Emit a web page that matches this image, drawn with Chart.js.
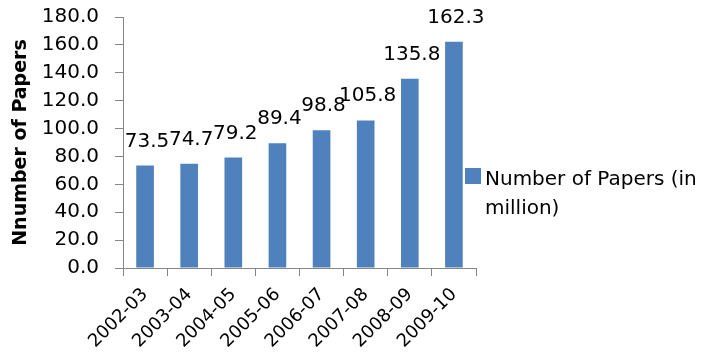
<!DOCTYPE html>
<html>
<head>
<meta charset="utf-8">
<script src="https://cdn.jsdelivr.net/npm/chart.js@4"></script>
<style>
  html, body { margin: 0; padding: 0; background: #fff; }
  #wrap { width: 712px; height: 362px; }
</style>
</head>
<body>
<div id="wrap"><canvas id="papers"></canvas></div>
<script>
// yearly circulation, in million papers
const years = ['2002-03', '2003-04', '2004-05', '2005-06', '2006-07', '2007-08', '2008-09', '2009-10'];
const papers = [73.5, 74.7, 79.2, 89.4, 98.8, 105.8, 135.8, 162.3];
const yTicks = [0, 20, 40, 60, 80, 100, 120, 140, 160, 180];
const seriesName = 'Number of Papers (in million)';
const legendLines = ['Number of Papers (in', 'million)'];

const FONT = 'DejaVu Sans';
const BLUE = '#4F81BD';
const AXIS = '#868686';

// value labels over each bar
const valueLabels = {
  id: 'valueLabels',
  afterDatasetsDraw(chart) {
    const ctx = chart.ctx;
    const meta = chart.getDatasetMeta(0);
    ctx.save();
    ctx.font = '20px "' + FONT + '"';
    ctx.fillStyle = '#000';
    ctx.textAlign = 'center';
    ctx.textBaseline = 'alphabetic';
    meta.data.forEach((bar, i) => {
      ctx.fillText(papers[i].toFixed(1), bar.x + 2, bar.y - 19);
    });
    ctx.restore();
  }
};

// legend on the right, text wrapped over two lines
const sideLegend = {
  id: 'sideLegend',
  afterDraw(chart) {
    const ctx = chart.ctx;
    const x = chart.chartArea.right - 11;
    const y = 168;
    ctx.save();
    ctx.fillStyle = BLUE;
    ctx.fillRect(x, y, 16, 16);
    ctx.font = '20px "' + FONT + '"';
    ctx.fillStyle = '#000';
    ctx.textAlign = 'left';
    ctx.textBaseline = 'alphabetic';
    legendLines.forEach((line, i) => {
      ctx.fillText(line, x + 20, y + 17 + i * 29);
    });
    ctx.restore();
  }
};

new Chart(document.getElementById('papers'), {
  type: 'bar',
  data: {
    labels: years,
    datasets: [{
      label: seriesName,
      data: papers,
      backgroundColor: BLUE,
      borderWidth: 0,
      categoryPercentage: 1,
      barPercentage: 0.4
    }]
  },
  options: {
    responsive: true,
    maintainAspectRatio: false,
    animation: false,
    layout: { padding: { top: 17, right: 236, bottom: 0, left: 0 } },
    plugins: {
      legend: { display: false },
      tooltip: { enabled: false }
    },
    scales: {
      x: {
        grid: { display: true, drawOnChartArea: false, tickLength: 8, color: AXIS, offset: true },
        border: { color: AXIS, width: 1 },
        ticks: {
          color: '#000',
          font: { family: FONT, size: 18 },
          autoSkip: false,
          minRotation: 45,
          maxRotation: 45,
          padding: 8
        },
        afterFit: s => { s.height = 94; }
      },
      y: {
        min: 0,
        max: 180,
        grid: { display: true, drawOnChartArea: false, tickLength: 8, color: AXIS },
        border: { color: AXIS, width: 1 },
        afterBuildTicks: s => { s.ticks = yTicks.map(v => ({ value: v })); },
        ticks: {
          color: '#000',
          font: { family: FONT, size: 20 },
          autoSkip: false,
          padding: 16,
          callback: v => Number(v).toFixed(1)
        },
        title: {
          display: true,
          text: 'Nnumber of Papers',
          color: '#000',
          font: { family: FONT, size: 19, weight: 'bold' },
          padding: { top: 10, bottom: 0 }
        },
        afterFit: s => {
          s.width = 123;
          s.paddingTop = 0;
          s.paddingBottom = 0;
        }
      }
    }
  },
  plugins: [valueLabels, sideLegend]
});
</script>
</body>
</html>
